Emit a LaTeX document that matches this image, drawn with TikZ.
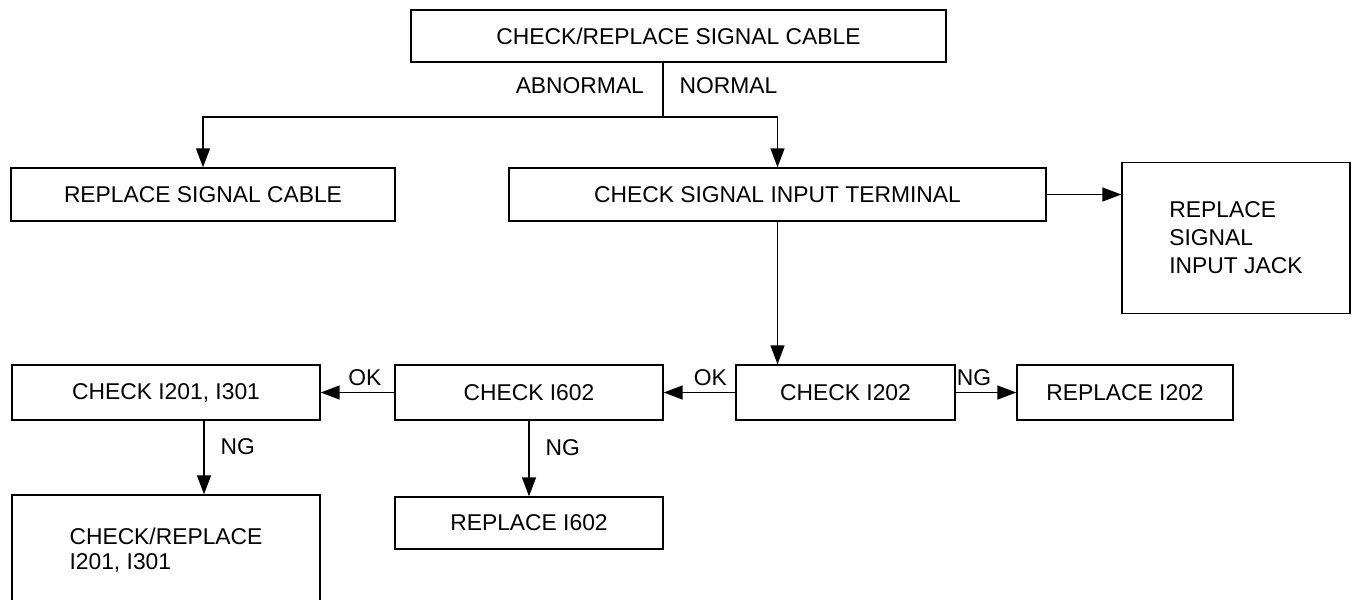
\documentclass[tikz,border=0pt]{standalone}
\usepackage{fontspec}
\setmainfont{Liberation Sans}
\usetikzlibrary{arrows.meta}

\tikzset{
  box/.style={draw, line width=0.8pt, inner sep=0pt, font=\fontsize{13}{16}\selectfont},
  arr/.style={line width=0.8pt, -{Triangle[length=0.38cm, width=0.28cm]}},
  lbl/.style={font=\fontsize{13}{16}\selectfont}
}

\begin{document}
\begin{tikzpicture}[x=0.02cm, y=-0.02cm]
\useasboundingbox (0,0) rectangle (1361,599);

\node[box, minimum width=10.7cm, minimum height=1.04cm] (check cable) at (678.5,36) {CHECK/REPLACE SIGNAL CABLE};
\node[box, minimum width=7.68cm, minimum height=1.06cm] (replace cable) at (203,194.5) {REPLACE SIGNAL CABLE};
\node[box, minimum width=10.74cm, minimum height=1.06cm] (check terminal) at (777.5,194.5) {CHECK SIGNAL INPUT TERMINAL};
\node[box, minimum width=4.56cm, minimum height=3.02cm, align=left, font=\fontsize{13}{16}\selectfont] (replace jack) at (1236,238) {REPLACE\\SIGNAL\\INPUT JACK};

\node[box, minimum width=6.16cm, minimum height=1.1cm] (check I201) at (166,392.5) {CHECK I201, I301};
\node[box, minimum width=5.36cm, minimum height=1.1cm] (check I602) at (529,392.5) {CHECK I602};
\node[box, minimum width=4.38cm, minimum height=1.1cm] (check I202) at (845.5,392.5) {CHECK I202};
\node[box, minimum width=4.32cm, minimum height=1.1cm] (replace I202) at (1125,392.5) {REPLACE I202};
\node[box, minimum width=5.36cm, minimum height=1.04cm] (replace I602) at (529,523) {REPLACE I602};
\node[box, minimum width=6.16cm, minimum height=2.2cm, align=left, font=\fontsize{13}{14}\selectfont] (replace I201) at (166,550) {CHECK/REPLACE\\I201, I301};

\coordinate (fork) at (663,117);
\coordinate (ng left) at (204,0);

% first branch
\draw[line width=0.8pt] (check cable.south -| fork) -- (fork)
  node[lbl, pos=0.42, left, xshift=-0.25cm] {ABNORMAL}
  node[lbl, pos=0.42, right, xshift=0.2cm] {NORMAL};
\draw[arr] (fork) -| (replace cable.north);
\draw[arr] (fork) -| (check terminal.north);
\draw[arr] (check terminal.east) -- (check terminal.east -| replace jack.west);
\draw[arr] (check terminal.south) -- (check terminal.south |- check I202.north);

% lower row
\draw[arr] (check I202.west) -- (check I602.east) node[lbl, pos=0.35, above] {OK};
\draw[arr] (check I602.west) -- (check I201.east) node[lbl, pos=0.4, above] {OK};
\draw[arr] (check I202.east) -- (replace I202.west) node[lbl, pos=0.3, above] {NG};
\draw[arr] (check I602.south) -- (replace I602.north) node[lbl, pos=0.35, right, xshift=0.2cm] {NG};
\draw[arr] (check I201.south -| ng left) -- (replace I201.north -| ng left) node[lbl, pos=0.35, right, xshift=0.2cm] {NG};

\end{tikzpicture}
\end{document}
